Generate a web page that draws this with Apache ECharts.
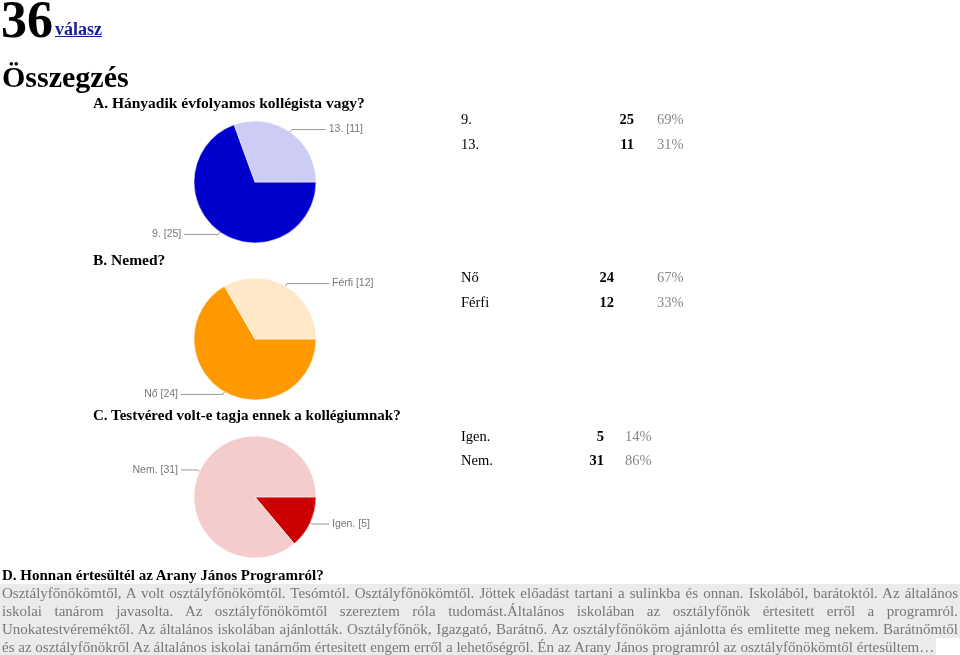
<!DOCTYPE html>
<html><head><meta charset="utf-8">
<script src="https://cdn.jsdelivr.net/npm/echarts@6/dist/echarts.min.js"></script>
<style>
html,body{margin:0;padding:0;width:960px;height:655px;overflow:hidden;background:#fff;font-family:"Liberation Serif","Times New Roman",serif;}
#chart{position:absolute;left:0;top:0;width:960px;height:655px;z-index:0;}
#page{position:absolute;left:0;top:0;width:960px;height:655px;z-index:1;pointer-events:none;}
.abs{position:absolute;white-space:nowrap;line-height:1;}
.h{font-weight:bold;font-size:15.5px;color:#000;}
.row{font-size:14.5px;color:#000;}
.cnt{font-weight:bold;text-align:right;}
.pct{color:#888;}
#box{position:absolute;left:0;top:584px;width:960px;font-size:15px;color:#777;}
#box .ln{height:18px;line-height:18px;background:#ebebeb;padding:0 2px;text-align:justify;text-align-last:justify;white-space:nowrap;overflow:hidden;}
#box .last{display:inline-block;text-align:left;text-align-last:left;}
</style>
</head><body>
<div id="chart"></div>
<div id="page"></div>
<script>
// ---- data ----
const totalCount = "36";
const totalWord = "válasz";
const summaryTitle = "Összegzés";
const qA_title = "A. Hányadik évfolyamos kollégista vagy?";
const qA_labels = ["9.", "13."];
const qA_values = [25, 11];
const qB_title = "B. Nemed?";
const qB_labels = ["Nő", "Férfi"];
const qB_values = [24, 12];
const qC_title = "C. Testvéred volt-e tagja ennek a kollégiumnak?";
const qC_labels = ["Igen.", "Nem."];
const qC_values = [5, 31];
const qD_title = "D. Honnan értesültél az Arany János Programról?";
const qD_lines = [
  "Osztályfőnökömtől, A volt osztályfőnökömtől. Tesómtól. Osztályfőnökömtől. Jöttek előadást tartani a sulinkba és onnan. Iskolából, barátoktól. Az általános",
  "iskolai tanárom javasolta. Az osztályfőnökömtől szereztem róla tudomást.Általános iskolában az osztályfőnök értesitett erről a programról.",
  "Unokatestvéreméktől. Az általános iskolában ajánlották. Osztályfőnök, Igazgató, Barátnő. Az osztályfőnököm ajánlotta és emlitette meg nekem. Barátnőmtől",
  "és az osztályfőnökről Az általános iskolai tanárnőm értesitett engem erről a lehetőségről. Én az Arany János programról az osztályfőnökömtől értesültem…"
];

// ---- page text ----
const page = document.getElementById('page');
function addText(txt, cls, style) {
  const d = document.createElement('div');
  d.className = 'abs ' + (cls || '');
  d.textContent = txt;
  Object.assign(d.style, style);
  page.appendChild(d);
  return d;
}
addText(totalCount, '', {left:'1px', top:'-6px', fontSize:'52px', fontWeight:'bold'});
addText(totalWord, '', {left:'55px', top:'20px', fontSize:'18px', fontWeight:'bold', color:'#1a1a9c', textDecoration:'underline'});
addText(summaryTitle, '', {left:'2px', top:'62px', fontSize:'30px', fontWeight:'bold'});
addText(qA_title, 'h', {left:'93px', top:'95px'});
addText(qB_title, 'h', {left:'93px', top:'252px'});
addText(qC_title, 'h', {left:'93px', top:'408px', fontSize:'15px'});
addText(qD_title, 'h', {left:'2px', top:'568px', fontSize:'15px'});

function addTable(labels, values, baselines, cntRight, pctLeft) {
  const sum = values.reduce((a, b) => a + b, 0);
  labels.forEach((l, i) => {
    const top = (baselines[i] - 12.1) + 'px';
    addText(l, 'row', {left:'461px', top});
    addText(String(values[i]), 'row cnt', {right:(960 - cntRight) + 'px', top});
    addText(Math.round(values[i] / sum * 100) + '%', 'row pct', {left:pctLeft + 'px', top});
  });
}
addTable(qA_labels, qA_values, [124, 149], 634, 657);
addTable(qB_labels, qB_values, [282, 307], 614, 657);
addTable(qC_labels, qC_values, [441, 465], 604, 625);

const box = document.createElement('div');
box.id = 'box';
qD_lines.forEach((t, i) => {
  const d = document.createElement('div');
  d.className = 'ln' + (i === qD_lines.length - 1 ? ' last' : '');
  d.textContent = t;
  box.appendChild(d);
});
page.appendChild(box);

// ---- pies ----
const chart = echarts.init(document.getElementById('chart'), null, {renderer:'canvas'});
function pieSeries(labels, values, colors, center, len2) {
  return {
    type:'pie', center:center, radius:61, startAngle:0, clockwise:true,
    silent:true, avoidLabelOverlap:false,
    data: labels.map((l, i) => ({name:l, value:values[i], itemStyle:{color:colors[i]}})),
    itemStyle:{borderColor:'#fff', borderWidth:0.5},
    label:{show:true, position:'outside', formatter:'{b} [{c}]', color:'#777',
      fontSize:10.5, fontFamily:'"Liberation Sans", Arial, sans-serif', distanceToLabelLine:3},
    labelLine:{show:true, length:3, length2:len2, smooth:false, lineStyle:{color:'#999', width:1}},
    emphasis:{disabled:true}
  };
}
chart.setOption({
  animation:false,
  series:[
    pieSeries(qA_labels, qA_values, ['#0000cc', '#ccccf4'], [255, 182], 34),
    pieSeries(qB_labels, qB_values, ['#ff9900', '#fee8c8'], [255, 339], 42),
    pieSeries(qC_labels, qC_values, ['#cc0000', '#f4cccc'], [255, 497], 16)
  ]
});
</script>
</body></html>
